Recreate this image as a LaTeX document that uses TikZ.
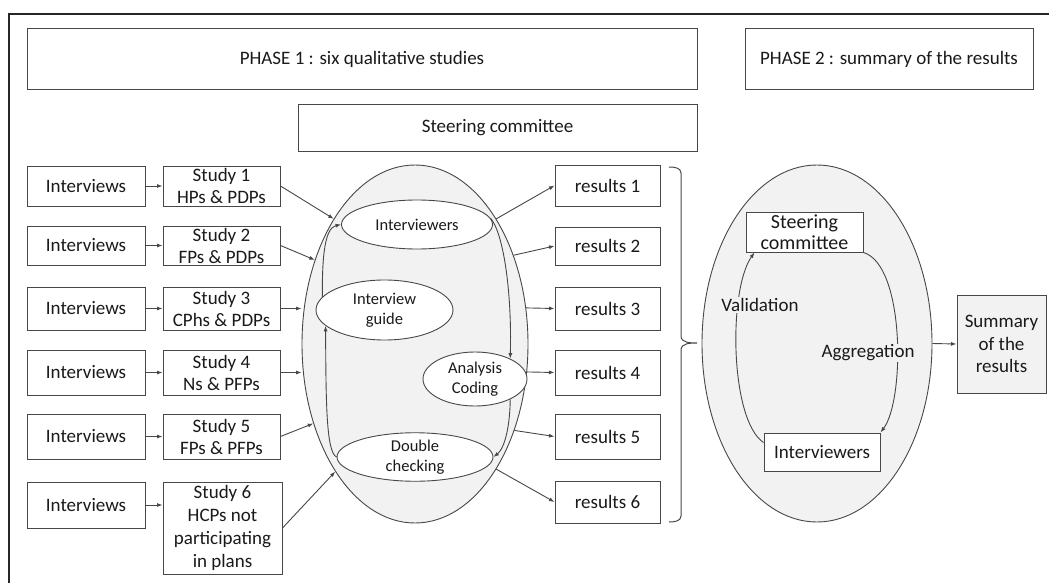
\documentclass[tikz,border=0pt]{standalone}
\usepackage{fontspec}
\setmainfont{Carlito}
\usetikzlibrary{arrows.meta,shapes.geometric,calc}
\definecolor{lc}{HTML}{474747}
\definecolor{ef}{HTML}{F2F2F2}
\definecolor{tc}{HTML}{1A1A1A}
\newcommand\myfs[2]{\fontsize{#1}{#2}\selectfont}
\begin{document}
\begin{tikzpicture}[x=1pt,y=-1pt,
  box/.style={draw=lc, line width=1pt, fill=white, align=center, inner sep=0pt, text=tc, font=\myfs{19}{22}},
  ell/.style={ellipse, draw=lc, line width=0.9pt, fill=white, align=center, inner sep=0pt, text=tc, font=\myfs{16.5}{20}},
  bigell/.style={ellipse, draw=lc, line width=0.9pt, fill=ef, inner sep=0pt},
  arr/.style={-{Latex[length=5.5pt,width=4pt]}, draw=lc, line width=0.9pt},
  lab/.style={fill=ef, inner sep=1pt, text=tc, font=\myfs{19}{22}}]
\useasboundingbox (0,0) rectangle (1049,583);
\draw[line width=1.2pt, black!85] (9,583) -- (9,14) -- (1049,14);

% headers
\node[box, minimum width=670pt, minimum height=61pt] (ph1) at (362,59.5) {PHASE 1 : six qualitative studies};
\node[box, minimum width=288pt, minimum height=61pt] (ph2) at (889,59.5) {PHASE 2 : summary of the results};
\node[box, minimum width=399pt, minimum height=46pt] (sc1) at (497.5,128) {Steering committee};

% big ellipses
\node[bigell, minimum width=226pt, minimum height=358pt] (p1) at (415,344) {};
\node[bigell, minimum width=230pt, minimum height=357pt] (p2) at (817,343.5) {};

% interviews
\node[box, minimum width=118pt, minimum height=40pt] (i1) at (86,186) {Interviews};
\node[box, minimum width=118pt, minimum height=39pt] (i2) at (86,245.5) {Interviews};
\node[box, minimum width=118pt, minimum height=43pt] (i3) at (86,308.5) {Interviews};
\node[box, minimum width=118pt, minimum height=45pt] (i4) at (86,372.5) {Interviews};
\node[box, minimum width=118pt, minimum height=45pt] (i5) at (86,436.5) {Interviews};
\node[box, minimum width=118pt, minimum height=46pt] (i6) at (86,505) {Interviews};

% studies
\node[box, minimum width=117pt, minimum height=40pt] (s1) at (221.5,186) {Study 1\\HPs \& PDPs};
\node[box, minimum width=117pt, minimum height=39pt] (s2) at (221.5,245.5) {Study 2\\FPs \& PDPs};
\node[box, minimum width=117pt, minimum height=43pt] (s3) at (221.5,308.5) {Study 3\\CPhs \& PDPs};
\node[box, minimum width=117pt, minimum height=45pt] (s4) at (221.5,372.5) {Study 4\\Ns \& PFPs};
\node[box, minimum width=117pt, minimum height=45pt] (s5) at (221.5,436.5) {Study 5\\FPs \& PFPs};
\node[box, minimum width=119pt, minimum height=92pt, font=\myfs{19}{23}] (s6) at (222.5,528) {Study 6\\HCPs not\\participating\\in plans};

% results
\node[box, minimum width=105pt, minimum height=41pt] (r1) at (607.5,185.5) {results 1};
\node[box, minimum width=105pt, minimum height=38pt] (r2) at (607.5,246) {results 2};
\node[box, minimum width=105pt, minimum height=43pt] (r3) at (607.5,308.5) {results 3};
\node[box, minimum width=105pt, minimum height=45pt] (r4) at (607.5,372.5) {results 4};
\node[box, minimum width=105pt, minimum height=45pt] (r5) at (607.5,436.5) {results 5};
\node[box, minimum width=105pt, minimum height=42pt] (r6) at (607.5,502) {results 6};

% inner ellipses phase 1
\node[ell, minimum width=151pt, minimum height=49pt] (iv) at (417,224.5) {Interviewers};
\node[ell, minimum width=137pt, minimum height=60pt] (guide) at (384.5,310) {Interview\\guide};
\node[ell, minimum width=104pt, minimum height=54pt] (anal) at (475,379) {Analysis\\Coding};
\node[ell, minimum width=156pt, minimum height=48pt] (dbl) at (415,457) {Double\\checking};

% phase 2 content
\node[box, minimum width=117pt, minimum height=40pt, font=\myfs{20}{20.5}] (st2) at (804.5,232) {Steering\\committee};
\node[box, minimum width=116pt, minimum height=38pt] (iv2) at (822,452) {Interviewers};
\node[box, fill=ef, minimum width=89pt, minimum height=98pt, font=\myfs{19}{22.5}] (sum) at (1001.5,344) {Summary\\of the\\results};

% interviews -> studies
\foreach \k in {1,...,5} {\draw[arr] (i\k.east) -- (s\k.west);}
\draw[arr] (i6.east) -- (i6.east -| s6.west);

% studies -> phase 1 ellipse
\draw[arr] (s1.east) -- (p1.123);
\draw[arr] (s2.east) -- (p1.140);
\draw[arr] (s3.east) -- (p1.west |- s3.east);
\draw[arr] (s4.east) -- (p1.west |- s4.east);
\draw[arr] (s5.east) -- (p1.218);
\draw[arr] (s6.east) -- (p1.238);

% phase 1 ellipse -> results
\draw[arr] (p1.57) -- (r1.west);
\draw[arr] (p1.42) -- (r2.west);
\draw[arr] (p1.18) -- (r3.west);
\draw[arr] (p1.-14) -- (r4.west);
\draw[arr] (p1.-41) -- (r5.west);
\draw[arr] (p1.-57) -- (r6.west);

% cycle inside phase 1
\draw[arr] (guide.168) .. controls (322,255) and (325,228) .. (iv.west);
\draw[arr] (iv.5) .. controls (503,232) and (512,290) .. (anal.30);
\draw[arr] (anal.-30) .. controls (510,425) and (505,448) .. (dbl.east);
\draw[arr] (dbl.west) .. controls (326,452) and (326,400) .. (guide.195);

% brace
\draw[lc, line width=1pt] (669,167) to[out=0,in=90] (681,173) -- (681,336)
  to[out=-90,in=180] (697,343) to[out=180,in=90] (681,350) -- (681,516)
  to[out=-90,in=0] (669,522);

% phase 2 cycle
\draw[arr] ($(iv2.north west)+(0,10)$) .. controls (730,420) and (728,290) .. ($(st2.south west)+(9,0)$);
\draw[arr] (st2.south east) .. controls (905,265) and (905,400) .. (iv2.north east);
\node[lab] (val) at (760,305) {Validation};
\node[lab] (agg) at (868,353) {Aggregation};

% phase 2 -> summary
\draw[arr] (p2.east) -- (sum.west);
\end{tikzpicture}
\end{document}
